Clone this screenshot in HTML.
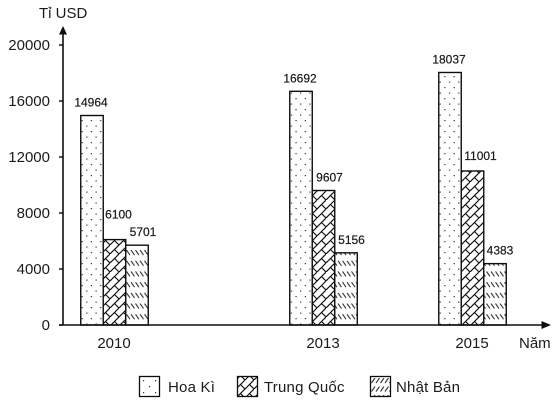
<!DOCTYPE html>
<html lang="vi">
<head>
<meta charset="utf-8">
<title>Tỉ USD chart</title>
<style>
html,body{margin:0;padding:0;background:#fff;}
#chart{display:block;width:560px;height:406px;}
text{font-family:"Liberation Sans",sans-serif;fill:#1a1a1a;}
.tick{font-size:15px;}
.val{font-size:12px;stroke:#1a1a1a;stroke-width:.2px;}
.cat{font-size:15px;}
.leg{font-size:15px;letter-spacing:.2px;}
</style>
</head>
<body>
<svg id="chart" xmlns="http://www.w3.org/2000/svg" width="560" height="406" viewBox="0 0 560 406">
  <defs>
    <filter id="soft" x="-2%" y="-2%" width="104%" height="104%"><feGaussianBlur stdDeviation="0.3"/></filter>
    <pattern id="p-dots" patternUnits="userSpaceOnUse" width="9.3" height="11" x="1" y="4">
      <rect width="9.3" height="11" fill="#fff"/>
      <rect x="1.5" y="0.5" width="1.2" height="1.2" fill="#333"/>
      <rect x="6.15" y="6" width="1.2" height="1.2" fill="#333"/>
    </pattern>
    <pattern id="p-dots-legend" patternUnits="userSpaceOnUse" width="12" height="12" x="140" y="377">
      <rect width="12" height="12" fill="#fff"/>
      <rect x="3" y="3" width="1.2" height="1.2" fill="#333"/>
      <rect x="9" y="9" width="1.2" height="1.2" fill="#333"/>
    </pattern>
    <pattern id="p-brick" patternUnits="userSpaceOnUse" width="18" height="18" x="2" y="2">
      <rect width="18" height="18" fill="#fff"/>
      <path d="M0 18L18 0M0 9L9 0M9 18L18 9M4.5 4.5L9 9M13.5 13.5L18 18M13.5 4.5L18 9M4.5 13.5L9 18" stroke="#111" stroke-width="1.15" fill="none"/>
    </pattern>
    <pattern id="p-back" patternUnits="userSpaceOnUse" width="4.5" height="10.7" x="0" y="250">
      <rect width="4.5" height="10.7" fill="#fff"/>
      <path d="M0.5 0L4 5" stroke="#333" stroke-width="1.1" fill="none"/>
    </pattern>
    <pattern id="p-forward" patternUnits="userSpaceOnUse" width="4.5" height="8.5" x="371" y="378">
      <rect width="4.5" height="8.5" fill="#fff"/>
      <path d="M4 0L0.5 5" stroke="#333" stroke-width="1.1" fill="none"/>
    </pattern>
  </defs>
  <g id="root" filter="url(#soft)">
    <rect x="0" y="0" width="560" height="406" fill="#fff"/>
    <g id="bars"></g>
    <g id="labels"></g>
    <g id="axes">
      <line x1="63" y1="325" x2="63" y2="32" stroke="#111" stroke-width="1.6"/>
      <polygon points="63,26 59,34.5 67,34.5" fill="#111"/>
      <line x1="59" y1="325" x2="544" y2="325" stroke="#111" stroke-width="1.6"/>
      <polygon points="551,325 541.5,321 541.5,329" fill="#111"/>
      <text x="39" y="18" style="font-size:15px">Tỉ USD</text>
      <text x="519" y="348" style="font-size:15px">Năm</text>
    </g>
    <g id="legend">
      <g>
        <rect x="139.5" y="376.5" width="20" height="20" fill="url(#p-dots-legend)" stroke="#111" stroke-width="1.3"/>
        <text class="leg" x="168" y="392">Hoa Kì</text>
      </g>
      <g>
        <rect x="237.5" y="376.5" width="20" height="20" fill="url(#p-brick)" stroke="#111" stroke-width="1.3"/>
        <text class="leg" x="264" y="392">Trung Quốc</text>
      </g>
      <g>
        <rect x="370.5" y="376.5" width="20" height="20" fill="url(#p-forward)" stroke="#111" stroke-width="1.3"/>
        <text class="leg" x="396" y="392">Nhật Bản</text>
      </g>
    </g>
  </g>
</svg>
<script>
const years = [2010, 2013, 2015];
const hoaKi = [14964, 16692, 18037];
const trungQuoc = [6100, 9607, 11001];
const nhatBan = [5701, 5156, 4383];
const yTicks = [0, 4000, 8000, 12000, 16000, 20000];

const NS = 'http://www.w3.org/2000/svg';
const seriesList = [
  { key: 'hoa-ki', values: hoaKi, fill: 'url(#p-dots)' },
  { key: 'trung-quoc', values: trungQuoc, fill: 'url(#p-brick)' },
  { key: 'nhat-ban', values: nhatBan, fill: 'url(#p-back)' }
];

function yScale(v) { return 325 - v * 0.014; }
function xScale(year) {
  return year <= 2013 ? 114.5 + (year - 2010) * 69.67 : 323.5 + (year - 2013) * 74.5;
}
function labelOffset(i, s) {
  const dx = s === 0 ? -1 : (s === 1 ? 4 + i * 2 : 6 - i * 0.5);
  const dy = (i === 0 && s === 1) ? -21 : (s === 1 && i === 2 ? -11 : -9);
  return { dx: dx, dy: dy };
}
function make(tag, attrs) {
  const el = document.createElementNS(NS, tag);
  Object.keys(attrs).forEach(function (k) { el.setAttribute(k, attrs[k]); });
  return el;
}

const axes = document.getElementById('axes');
yTicks.forEach(function (t) {
  const y = yScale(t);
  const tick = make('line', { x1: 59, x2: 63, y1: y, y2: y, stroke: '#111', 'stroke-width': 1.4 });
  
  
  axes.appendChild(tick);
  const label = make('text', { x: 50, y: y + 5, 'text-anchor': 'end', class: 'tick' });
  
  
  label.textContent = String(t);
  axes.appendChild(label);
});

const barsG = document.getElementById('bars');
const labelsG = document.getElementById('labels');
const barW = 22.5;
years.forEach(function (year, i) {
  const cx = xScale(year);
  const catLabel = make('text', { x: cx - 0.5, y: 348, 'text-anchor': 'middle', class: 'cat' });
  
  
  catLabel.textContent = String(year);
  axes.appendChild(catLabel);
  seriesList.forEach(function (s, j) {
    const v = s.values[i];
    const x = cx - barW * 1.5 + j * barW;
    const top = yScale(v);
    const bar = make('rect', { x: x, y: top, width: barW, height: yScale(0) - top, fill: s.fill, stroke: '#111', 'stroke-width': 1.4 });
    
    
    barsG.appendChild(bar);
    const off = labelOffset(i, j);
    const val = make('text', { x: x + barW / 2 + off.dx, y: top + off.dy, 'text-anchor': 'middle', class: 'val' });
    
    
    val.textContent = String(v);
    labelsG.appendChild(val);
  });
});
</script>
</body>
</html>
